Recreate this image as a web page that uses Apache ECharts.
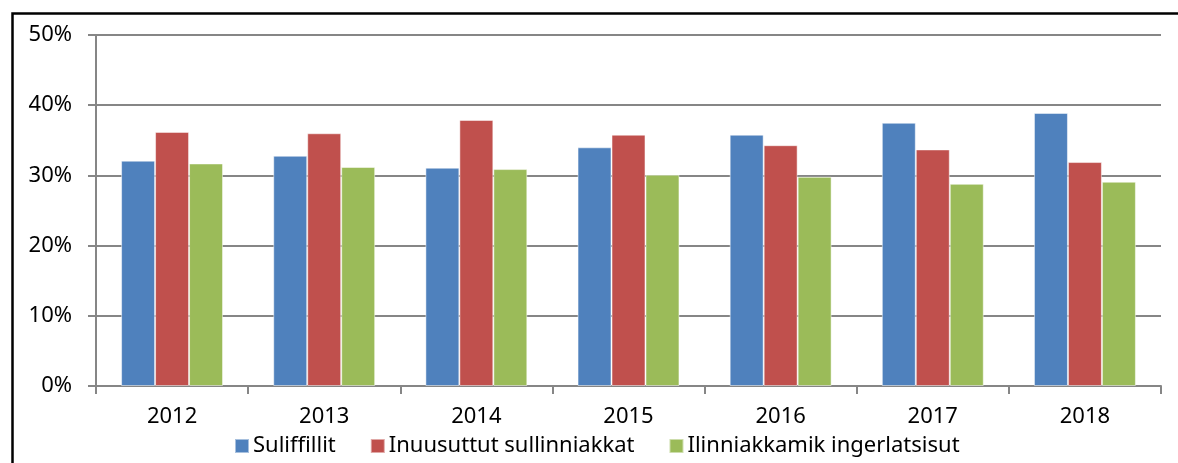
<html>
<head>
<meta charset="utf-8">
<script src="https://cdn.jsdelivr.net/npm/echarts@6/dist/echarts.min.js"></script>
</head>
<body>
<style>
  html, body, #main { width: 100%; height: 100%; margin: 0; background: #fff; }
</style>
<div id="main"></div>
<script>
var years = ['2012', '2013', '2014', '2015', '2016', '2017', '2018'];
var seriesNames = ['Suliffillit', 'Inuusuttut sullinniakkat', 'Ilinniakkamik ingerlatsisut'];
var suliffillit = [32.1, 32.8, 31.1, 34.0, 35.8, 37.5, 38.9];
var inuusuttut = [36.2, 36.0, 37.9, 35.8, 34.3, 33.7, 31.9];
var ilinniakkamik = [31.7, 31.2, 30.9, 30.1, 29.8, 28.8, 29.1];
var colors = ['#4F81BD', '#C0504D', '#9BBB59'];
var font = '"Noto Sans", sans-serif';

var chart = echarts.init(document.getElementById('main'));
var values = [suliffillit, inuusuttut, ilinniakkamik];
var series = [];
for (var i = 0; i < seriesNames.length; i++) {
  series.push({
    name: seriesNames[i],
    type: 'bar',
    data: values[i],
    barGap: '0%',
    barCategoryGap: '33%',
    itemStyle: { color: colors[i], borderColor: 'rgba(255,255,255,0.5)', borderWidth: 1 }
  });
}

chart.setOption({
  animation: false,
  graphic: [{
    type: 'rect',
    left: 10, top: 11,
    shape: { width: 1300, height: 600 },
    style: { fill: 'none', stroke: '#000', lineWidth: 2.5 },
    z: 100
  }],
  legend: {
    data: seriesNames,
    left: 229, top: 430,
    itemWidth: 14, itemHeight: 14,
    itemGap: 34,
    icon: 'rect',
    textStyle: { fontFamily: font, fontSize: 22, color: '#000', padding: [0, 0, 0, -1] }
  },
  grid: { left: 96, right: 17, top: 35, bottom: 77 },
  xAxis: {
    type: 'category',
    data: years,
    axisLine: { lineStyle: { color: '#868686', width: 2 } },
    axisTick: { show: true, length: 8, lineStyle: { color: '#868686', width: 2 } },
    axisLabel: { fontFamily: font, fontSize: 22, color: '#000', margin: 20 }
  },
  yAxis: {
    type: 'value',
    min: 0, max: 50, interval: 10,
    axisLine: { show: true, lineStyle: { color: '#868686', width: 2 } },
    axisTick: { show: true, length: 8, lineStyle: { color: '#868686', width: 2 } },
    splitLine: { lineStyle: { color: '#868686', width: 2 } },
    axisLabel: { fontFamily: font, fontSize: 22, color: '#000', margin: 24, formatter: '{value}%' }
  },
  series: series
});
window.onresize = chart.resize;
</script>
</body>
</html>
